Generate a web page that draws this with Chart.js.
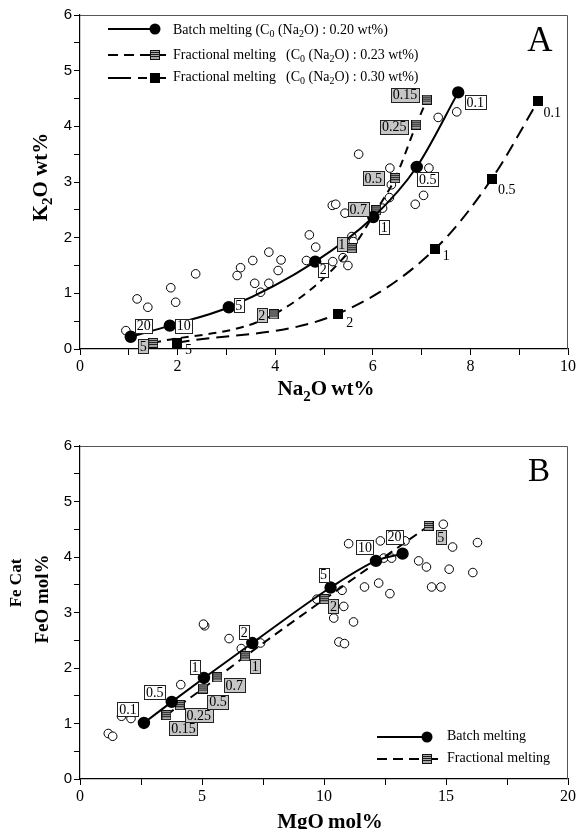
<!DOCTYPE html>
<html>
<head>
<meta charset="utf-8">
<script src="https://cdn.jsdelivr.net/npm/chart.js@4.4.1/dist/chart.umd.min.js"></script>
<style>
  html, body { margin: 0; padding: 0; background: #fff; }
  #wrap { position: relative; width: 578px; height: 829px; overflow: hidden; }
  canvas { position: absolute; left: 0; }
  #chartA { top: 0; }
  #chartB { top: 415px; }
</style>
</head>
<body>
<div id="wrap">
  <canvas id="chartA" width="578" height="410"></canvas>
  <canvas id="chartB" width="578" height="414"></canvas>
</div>
<script>
// ---- A: K2O vs Na2O (wt%) ----
const batchNa2O = [1.04, 1.84, 3.05, 4.82, 6.01, 6.90, 7.75];
const batchK2O = [0.22, 0.42, 0.75, 1.57, 2.37, 3.27, 4.61];
const batchTagsA = ['20', '10', '5', '2', '1', '0.5', '0.1'];

const frac23Na2O = [1.50, 3.97, 5.57, 6.07, 6.46, 6.89, 7.11];
const frac23K2O = [0.11, 0.62, 1.81, 2.49, 3.07, 4.03, 4.48];
const frac23Tags = ['5', '2', '1', '0.7', '0.5', '0.25', '0.15'];

const frac30Na2O = [1.98, 5.28, 7.28, 8.44, 9.39];
const frac30K2O = [0.11, 0.63, 1.80, 3.06, 4.46];
const frac30Tags = ['5', '2', '1', '0.5', '0.1'];

const sampleNa2O = [0.94, 1.17, 1.39, 1.86, 1.96, 2.37, 3.22, 3.29, 3.54, 3.58, 3.70, 3.87, 3.87,
  4.06, 4.12, 4.64, 4.70, 4.83, 5.18, 5.39, 5.49, 5.57, 5.60, 5.17, 5.24, 5.43, 5.71, 6.20,
  6.34, 6.38, 6.35, 6.87, 7.04, 7.15, 7.34, 7.72];
const sampleK2O = [0.33, 0.90, 0.75, 1.10, 0.84, 1.35, 1.32, 1.46, 1.59, 1.18, 1.02, 1.18, 1.74,
  1.41, 1.60, 1.59, 2.05, 1.83, 1.57, 1.64, 1.50, 2.02, 1.93, 2.58, 2.60, 2.44, 3.50, 2.53,
  2.72, 2.95, 3.25, 2.60, 2.76, 3.25, 4.16, 4.26];

// ---- B: FeO vs MgO (mol%) ----
const batchMgO = [2.62, 3.76, 5.08, 7.06, 10.27, 12.13, 13.22];
const batchFeO = [1.01, 1.39, 1.82, 2.45, 3.45, 3.93, 4.06];
const batchTagsB = ['0.1', '0.5', '1', '2', '5', '10', '20'];

const fracMgO = [3.54, 4.09, 5.04, 5.63, 6.77, 10.02, 14.29];
const fracFeO = [1.15, 1.33, 1.63, 1.83, 2.21, 3.24, 4.56];
const fracTagsB = ['0.15', '0.25', '0.5', '0.7', '1', '2', '5'];

const sampleMgO = [1.16, 1.34, 1.70, 2.09, 4.13, 5.11, 5.06, 6.11, 6.61, 7.40, 9.71, 10.74, 11.66,
  12.24, 12.70, 10.81, 10.40, 11.21, 10.61, 10.84, 11.01, 12.31, 12.45, 12.77, 13.32, 13.88,
  14.20, 14.41, 14.79, 14.89, 15.13, 15.27, 16.10, 16.29];
const sampleFeO = [0.82, 0.77, 1.13, 1.09, 1.70, 2.76, 2.79, 2.53, 2.35, 2.45, 3.24, 3.40, 3.46,
  3.53, 3.34, 3.11, 2.90, 2.83, 2.47, 2.44, 4.24, 4.29, 3.98, 3.98, 4.29, 3.93,
  3.82, 3.46, 3.46, 4.59, 3.78, 4.18, 3.72, 4.26];

// tag placement next to each marker, in pixels
const batchTagOffA = [[13, -11], [14, 0], [10, -2], [8, 8], [11, 10], [11, 12], [17, 10]];
const frac23TagOff = [[-10, 3], [-12, 1], [-10, -4], [-18, -1], [-22, 0], [-22, 2], [-22, -5]];
const frac30TagOff = [[12, 6], [12, 8], [11, 7], [15, 11], [14, 12]];
const batchTagOffB = [[-16, -14], [-17, -10], [-9, -11], [-8, -11], [-7, -13], [-11, -14], [-8, -17]];
const fracTagOffB = [[17, 13], [19, 10], [15, 13], [17, 8], [10, 10], [9, 7], [12, 11]];

const serif = '"Liberation Serif", "Times New Roman", serif';
const sans = '"Liberation Sans", Arial, sans-serif';

const pts = (xs, ys) => xs.map((x, i) => ({ x: x, y: ys[i] }));

function squareMarker(striped) {
    const c = document.createElement('canvas');
    c.width = 10;
    c.height = 10;
    const g = c.getContext('2d');
    if (!striped) {
        g.fillStyle = '#000';
        g.fillRect(0, 0, 10, 10);
        return c;
    }
    g.fillStyle = '#a6a6a6';
    g.fillRect(0, 0, 10, 10);
    g.fillStyle = '#1c1c1c';
    [2, 4, 6].forEach(y => g.fillRect(1, y, 8, 1));
    g.strokeStyle = '#111';
    g.lineWidth = 1;
    g.strokeRect(0.5, 0.5, 9, 9);
    return c;
}
const stripeSq = squareMarker(true);
const blackSq = squareMarker(false);

// text with subscripts: pieces starting with '_' are lowered and smaller
function richText(ctx, parts, x, y, size, weight, align) {
    const pieces = parts.map(p => {
        const sub = p.startsWith('_');
        const txt = sub ? p.slice(1) : p;
        const fs = sub ? Math.round(size * 0.7) : size;
        ctx.font = `${weight} ${fs}px ${serif}`;
        return { txt, sub, fs, w: ctx.measureText(txt).width };
    });
    const total = pieces.reduce((s, p) => s + p.w, 0);
    let cx = align === 'center' ? x - total / 2 : x;
    ctx.textAlign = 'left';
    pieces.forEach(p => {
        ctx.font = `${weight} ${p.fs}px ${serif}`;
        ctx.fillText(p.txt, cx, p.sub ? y + size * 0.28 : y);
        cx += p.w;
    });
}

function vertText(ctx, parts, x, y, size) {
    ctx.save();
    ctx.translate(x, y);
    ctx.rotate(-Math.PI / 2);
    ctx.textBaseline = 'middle';
    richText(ctx, parts, 0, 0, size, 'bold', 'center');
    ctx.restore();
}

function tagList(ds, texts, offsets, kind) {
    return texts.map((text, i) => ({ ds, i, text, dx: offsets[i][0], dy: offsets[i][1], kind }));
}

function drawTags(chart, tags) {
    const ctx = chart.ctx;
    ctx.save();
    ctx.font = `14px ${serif}`;
    ctx.textAlign = 'center';
    ctx.textBaseline = 'middle';
    tags.forEach(t => {
        const pt = chart.getDatasetMeta(t.ds).data[t.i];
        const cx = pt.x + t.dx;
        const cy = pt.y + t.dy;
        if (t.kind !== 'plain') {
            const w = Math.round(ctx.measureText(t.text).width + 3);
            const h = 14;
            const bx = Math.round(cx - w / 2) + 0.5;
            const by = Math.round(cy - h / 2) + 0.5;
            ctx.fillStyle = t.kind === 'grey' ? '#c6c6c6' : '#fff';
            ctx.fillRect(bx, by, w, h);
            ctx.strokeStyle = '#222';
            ctx.lineWidth = 1;
            ctx.strokeRect(bx, by, w, h);
        }
        ctx.fillStyle = '#000';
        ctx.fillText(t.text, cx, cy + 1);
    });
    ctx.restore();
}

function drawFrame(chart) {
    const { ctx, chartArea: a } = chart;
    ctx.save();
    ctx.strokeStyle = '#555';
    ctx.lineWidth = 1;
    ctx.beginPath();
    ctx.moveTo(a.left, a.top + 0.5);
    ctx.lineTo(a.right - 0.5, a.top + 0.5);
    ctx.lineTo(a.right - 0.5, a.bottom);
    ctx.stroke();
    ctx.restore();
}

// little legend line with a marker on it
function legendLine(ctx, x0, x1, y, dash, mark, mx, tail) {
    ctx.save();
    ctx.strokeStyle = '#000';
    ctx.lineWidth = 2;
    ctx.setLineDash(dash);
    ctx.beginPath();
    ctx.moveTo(x0, y);
    ctx.lineTo(x1, y);
    ctx.stroke();
    ctx.setLineDash([]);
    if (tail) {
        ctx.beginPath();
        ctx.moveTo(tail[0], y);
        ctx.lineTo(tail[1], y);
        ctx.stroke();
    }
    if (mark === 'circle') {
        ctx.fillStyle = '#000';
        ctx.beginPath();
        ctx.arc(mx, y, 5.5, 0, Math.PI * 2);
        ctx.fill();
    } else {
        ctx.drawImage(mark, mx - 5, y - 5);
    }
    ctx.restore();
}

function axisOpts(min, max, step, labelEvery, font, height) {
    return {
        type: 'linear',
        min: min,
        max: max,
        ticks: {
            stepSize: step,
            autoSkip: false,
            maxRotation: 0,
            color: '#000',
            font: font,
            padding: 2,
            callback: v => (Math.abs(v / labelEvery - Math.round(v / labelEvery)) < 1e-6 ? v : '')
        },
        grid: { drawOnChartArea: false, drawTicks: true, tickLength: 6, color: '#000' },
        border: { display: true, color: '#000', width: 1.2 },
        afterFit: s => {
            if (height) s.height = height; else s.width = 80;
        }
    };
}

function lineSet(data, dash, style, radius, order) {
    return {
        data: data,
        showLine: true,
        borderColor: '#000',
        borderWidth: 2,
        borderDash: dash,
        pointStyle: style,
        pointRadius: radius,
        pointBackgroundColor: '#000',
        pointBorderColor: '#000',
        tension: 0.4,
        cubicInterpolationMode: 'monotone',
        order: order
    };
}

function sampleSet(data) {
    return {
        data: data,
        showLine: false,
        pointStyle: 'circle',
        pointRadius: 4.3,
        pointBorderWidth: 1,
        pointBackgroundColor: '#fff',
        pointBorderColor: '#000',
        order: 9
    };
}

function baseOptions(topPad, xMax, xStep, xLabelEvery, xHeight) {
    return {
        responsive: false,
        animation: false,
        devicePixelRatio: 1,
        events: [],
        layout: { padding: { top: topPad, right: 10, left: 0, bottom: 0 } },
        plugins: { legend: { display: false }, tooltip: { enabled: false } },
        scales: {
            x: axisOpts(0, xMax, xStep, xLabelEvery, { family: serif, size: 16 }, xHeight),
            y: axisOpts(0, 6, 0.5, 1, { family: sans, size: 15 }, 0)
        }
    };
}

// ---- panel A ----
const tagsA = [].concat(
    tagList(0, batchTagsA, batchTagOffA, 'box'),
    tagList(1, frac23Tags, frac23TagOff, 'grey'),
    tagList(2, frac30Tags, frac30TagOff, 'plain')
);

new Chart(document.getElementById('chartA'), {
    type: 'scatter',
    data: {
        datasets: [
            lineSet(pts(batchNa2O, batchK2O), [], 'circle', 5.2, 1),
            lineSet(pts(frac23Na2O, frac23K2O), [8, 6], stripeSq, 5, 2),
            lineSet(pts(frac30Na2O, frac30K2O), [13, 7], blackSq, 5, 3),
            sampleSet(pts(sampleNa2O, sampleK2O))
        ]
    },
    options: baseOptions(15, 10, 1, 2, 61),
    plugins: [{
        id: 'decorA',
        afterDatasetsDraw(chart) {
            const ctx = chart.ctx;
            drawFrame(chart);
            drawTags(chart, tagsA);

            ctx.save();
            ctx.fillStyle = '#000';
            ctx.textBaseline = 'alphabetic';
            richText(ctx, ['Na', '_2', 'O\u2009wt%'], 326, 395, 21, 'bold', 'center');
            vertText(ctx, ['K', '_2', 'O wt%'], 42, 177, 21);

            ctx.font = `35px ${serif}`;
            ctx.textAlign = 'center';
            ctx.textBaseline = 'middle';
            ctx.fillText('A', 540, 42);

            legendLine(ctx, 108, 160, 29, [], 'circle', 155);
            legendLine(ctx, 108, 150, 55, [10, 6], stripeSq, 155, [160, 166]);
            legendLine(ctx, 108, 147, 78, [23, 7], blackSq, 155, [158, 166]);
            ctx.textBaseline = 'middle';
            richText(ctx, ['Batch melting (C', '_0', ' (Na', '_2', 'O) : 0.20 wt%)'], 173, 30, 14, 'normal');
            richText(ctx, ['Fractional melting'], 173, 55, 14, 'normal');
            richText(ctx, ['(C', '_0', ' (Na', '_2', 'O) : 0.23 wt%)'], 286, 55, 14, 'normal');
            richText(ctx, ['Fractional melting'], 173, 77, 14, 'normal');
            richText(ctx, ['(C', '_0', ' (Na', '_2', 'O) : 0.30 wt%)'], 286, 77, 14, 'normal');
            ctx.restore();
        }
    }]
});

// ---- panel B ----
const tagsB = [].concat(
    tagList(0, batchTagsB, batchTagOffB, 'box'),
    tagList(1, fracTagsB, fracTagOffB, 'grey')
);

new Chart(document.getElementById('chartB'), {
    type: 'scatter',
    data: {
        datasets: [
            lineSet(pts(batchMgO, batchFeO), [], 'circle', 5.2, 1),
            lineSet(pts(fracMgO, fracFeO), [9, 6], stripeSq, 5, 2),
            sampleSet(pts(sampleMgO, sampleFeO))
        ]
    },
    options: baseOptions(31, 20, 2.5, 5, 50),
    plugins: [{
        id: 'decorB',
        afterDatasetsDraw(chart) {
            const ctx = chart.ctx;
            drawFrame(chart);
            drawTags(chart, tagsB);

            ctx.save();
            ctx.fillStyle = '#000';
            ctx.textBaseline = 'alphabetic';
            richText(ctx, ['MgO\u2009mol%'], 330, 413, 21, 'bold', 'center');
            vertText(ctx, ['Fe Cat'], 17, 168, 17);
            vertText(ctx, ['FeO mol%'], 43, 184, 19);

            ctx.font = `33px ${serif}`;
            ctx.textAlign = 'center';
            ctx.textBaseline = 'middle';
            ctx.fillText('B', 539, 57);

            legendLine(ctx, 377, 432, 322, [], 'circle', 427);
            legendLine(ctx, 377, 422, 344, [10, 6], stripeSq, 427, [432, 438]);
            ctx.textBaseline = 'middle';
            richText(ctx, ['Batch melting'], 447, 321, 14, 'normal');
            richText(ctx, ['Fractional melting'], 447, 343, 14, 'normal');
            ctx.restore();
        }
    }]
});
</script>
</body>
</html>
